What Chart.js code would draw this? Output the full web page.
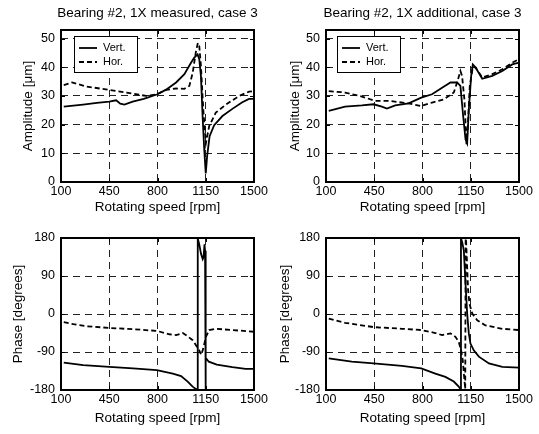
<!DOCTYPE html>
<html><head><meta charset="utf-8">
<script src="https://cdn.jsdelivr.net/npm/chart.js@4"></script>
<style>
html,body{margin:0;padding:0;background:#fff;}
#wrap{position:relative;width:539px;height:434px;overflow:hidden;background:#fff;}
canvas{position:absolute;}
</style></head><body>
<div id="wrap">
<canvas id="c1" width="270" height="217" style="left:0;top:0"></canvas>
<canvas id="c2" width="270" height="217" style="left:269px;top:0"></canvas>
<canvas id="c3" width="270" height="217" style="left:0;top:217px"></canvas>
<canvas id="c4" width="270" height="217" style="left:269px;top:217px"></canvas>
</div>
<script>
// ---------- data ----------
const xTicks = [100, 450, 800, 1150, 1500];
const ampTicks = [0, 10, 20, 30, 40, 50];
const phaseTicks = [-180, -90, 0, 90, 180];
const seriesNames = ['Vert.', 'Hor.'];
const plotTitles = ['Bearing #2, 1X measured, case 3', 'Bearing #2, 1X additional, case 3'];

// measured amplitude (top left)
const measAmpVertRpm = [120, 260, 360, 450, 500, 530, 560, 620, 700, 800, 862, 935, 995, 1043, 1067, 1091, 1103, 1115, 1127, 1139, 1150, 1160, 1178, 1211, 1271, 1343, 1415, 1464, 1500];
const measAmpVert    = [26.3, 27.0, 27.6, 28.0, 28.5, 27.3, 27.0, 28.0, 29.0, 30.6, 32.2, 34.7, 37.6, 41.6, 43.4, 44.5, 42.8, 37.0, 23.0, 11.4, 3.0, 9.0, 16.0, 19.8, 23.0, 25.5, 27.8, 29.0, 29.0];
const measAmpHorRpm  = [120, 180, 285, 450, 575, 718, 795, 862, 935, 995, 1031, 1055, 1079, 1093, 1103, 1115, 1132, 1151, 1175, 1223, 1296, 1392, 1464, 1500];
const measAmpHor     = [33.8, 34.7, 33.3, 32.1, 31.2, 30.0, 30.6, 32.1, 32.6, 32.5, 33.5, 38.0, 45.5, 48.5, 47.4, 40.5, 25.3, 13.5, 19.5, 24.2, 27.0, 30.0, 31.5, 31.7];

// additional amplitude (top right)
const addAmpVertRpm = [120, 238, 360, 445, 505, 542, 602, 699, 791, 869, 942, 1003, 1051, 1075, 1095, 1112, 1124, 1136, 1153, 1165, 1184, 1233, 1306, 1379, 1451, 1500];
const addAmpVert    = [24.8, 26.3, 26.7, 27.1, 26.3, 25.6, 26.7, 27.4, 29.4, 30.6, 32.9, 34.7, 34.7, 33.5, 23.0, 14.9, 13.5, 25.3, 37.0, 41.0, 40.0, 36.0, 37.0, 38.7, 41.0, 41.6];
const addAmpHorRpm  = [120, 238, 360, 457, 554, 699, 791, 869, 954, 1027, 1051, 1075, 1087, 1104, 1119, 1129, 1143, 1165, 1184, 1233, 1306, 1379, 1451, 1500];
const addAmpHor     = [31.7, 31.2, 29.8, 28.3, 28.3, 27.4, 26.5, 27.7, 28.8, 31.2, 34.7, 38.7, 37.0, 28.8, 13.2, 19.5, 33.5, 40.0, 40.0, 36.4, 37.6, 39.3, 41.6, 42.8];

// measured phase (bottom left)
const measPhVertRpm = [120, 261, 450, 622, 795, 911, 971, 1019, 1055, 1080, 1090, 1092, 1103, 1116, 1128, 1134, 1141, 1145, 1148, 1151, 1172, 1230, 1343, 1439, 1500];
const measPhVert    = [-115, -121, -125, -129, -133, -141, -147, -160, -172, -178, -179, 179, 165, 142, 130, 135, 165, 150, -178, -104, -113, -120, -126, -130, -130];
const measPhHorRpm  = [120, 189, 285, 450, 622, 795, 887, 935, 983, 1019, 1055, 1079, 1103, 1117, 1132, 1151, 1175, 1223, 1343, 1500];
const measPhHor     = [-19, -24, -29, -33, -36, -40, -48, -50, -45, -53, -62, -74, -86, -97, -82, -54, -38, -35, -38, -42];

// additional phase (bottom right)
const addPhVertRpm = [120, 287, 445, 651, 791, 893, 966, 1027, 1063, 1075, 1079, 1088, 1100, 1112, 1124, 1136, 1148, 1172, 1209, 1282, 1379, 1500];
const addPhVert    = [-105, -113, -117, -123, -129, -141, -149, -160, -172, -178, 179, 170, 150, 72, 1, -46, -70, -86, -101, -117, -125, -127];
const addPhHorRpm  = [120, 238, 445, 651, 791, 893, 942, 1003, 1039, 1063, 1080, 1092, 1104, 1110, 1113, 1116, 1124, 1131, 1141, 1161, 1197, 1257, 1379, 1500];
const addPhHor     = [-11, -21, -31, -35, -38, -45, -50, -46, -54, -66, -86, -109, -156, -178, 179, 175, 111, 56, 24, 1, -15, -27, -35, -38];

// ---------- drawing ----------
const FONT = '"Liberation Sans", Arial, Helvetica, sans-serif';
const pts = (xs, ys) => xs.map((x, i) => ({x: x, y: ys[i]}));

const framePlugin = {
  id: 'frame',
  afterDatasetsDraw(chart) {
    const o = chart.options.plugins.frame;
    const ctx = chart.ctx, a = chart.chartArea;
    const xs = chart.scales.x, ys = chart.scales.y;
    ctx.save();
    ctx.strokeStyle = '#000'; ctx.lineWidth = 1; ctx.setLineDash([]);
    ctx.beginPath();
    xTicks.forEach(v => {
      const p = Math.round(xs.getPixelForValue(v)) + 0.5;
      ctx.moveTo(p, a.bottom); ctx.lineTo(p, a.bottom - 4);
      ctx.moveTo(p, a.top); ctx.lineTo(p, a.top + 4);
    });
    o.yTicks.forEach(v => {
      const p = Math.round(ys.getPixelForValue(v)) + 0.5;
      ctx.moveTo(a.left, p); ctx.lineTo(a.left + 4, p);
      ctx.moveTo(a.right, p); ctx.lineTo(a.right - 4, p);
    });
    ctx.stroke();
    ctx.lineWidth = 2;
    ctx.strokeRect(a.left, a.top, a.right - a.left, a.bottom - a.top);
    if (o.legend) {
      const L = o.legend;
      const bx = a.left + L.dx, by = a.top + L.dy;
      ctx.fillStyle = '#fff';
      ctx.fillRect(bx, by, L.w, L.h);
      ctx.lineWidth = 1;
      ctx.strokeRect(bx + 0.5, by + 0.5, L.w, L.h);
      chart.data.datasets.forEach((ds, i) => {
        const yy = by + 12 + i * 14;
        ctx.beginPath();
        ctx.lineWidth = ds.borderWidth;
        ctx.setLineDash(ds.borderDash || []);
        ctx.moveTo(bx + 5, yy); ctx.lineTo(bx + 23, yy);
        ctx.stroke();
        ctx.setLineDash([]);
        ctx.fillStyle = '#000';
        ctx.font = '11px ' + FONT;
        ctx.textAlign = 'left'; ctx.textBaseline = 'middle';
        ctx.fillText(ds.label, bx + 29, yy);
      });
    }
    if (o.title) {
      ctx.fillStyle = '#000';
      ctx.font = '13.5px ' + FONT;
      ctx.textAlign = 'center'; ctx.textBaseline = 'middle';
      ctx.fillText(o.title, (a.left + a.right) / 2, 13);
    }
    ctx.restore();
  }
};

function makeChart(id, cfg) {
  const ctx = document.getElementById(id);
  const datasets = [
    {label: seriesNames[0], data: pts(cfg.v[0], cfg.v[1]), borderColor: '#000', borderWidth: 1.8, borderDash: [], pointRadius: 0, tension: 0, fill: false},
    {label: seriesNames[1], data: pts(cfg.h[0], cfg.h[1]), borderColor: '#000', borderWidth: 1.8, borderDash: [5, 3], pointRadius: 0, tension: 0, fill: false}
  ];
  return new Chart(ctx, {
    type: 'line',
    data: {datasets},
    options: {
      responsive: false, animation: false, events: [],
      layout: {padding: {top: cfg.padTop, right: cfg.padRight, left: 0, bottom: 0}},
      plugins: {
        legend: {display: false}, tooltip: {enabled: false}, title: {display: false},
        frame: {yTicks: cfg.yTicks, legend: cfg.legend, title: cfg.title}
      },
      scales: {
        x: {
          type: 'linear', min: 100, max: 1500,
          afterBuildTicks: s => { s.ticks = xTicks.map(v => ({value: v})); },
          afterFit: s => { s.height = cfg.xHeight; },
          ticks: {autoSkip: false, maxRotation: 0, padding: 2, color: '#000', font: {family: FONT, size: 12.5}, callback: v => String(v)},
          grid: {color: '#222', lineWidth: 1, drawTicks: false},
          border: {display: false, dash: [7, 5]},
          title: {display: true, text: 'Rotating speed [rpm]', color: '#000', font: {family: FONT, size: 13.5}, padding: {top: 0, bottom: cfg.xTitlePad}}
        },
        y: {
          type: 'linear', min: cfg.yMin, max: cfg.yMax,
          afterBuildTicks: s => { s.ticks = cfg.yTicks.map(v => ({value: v})); },
          afterFit: s => { s.width = cfg.yWidth; },
          ticks: {autoSkip: false, padding: 6, color: '#000', font: {family: FONT, size: 12.5}, callback: v => String(v)},
          grid: {color: '#222', lineWidth: 1, drawTicks: false},
          border: {display: false, dash: [7, 5]},
          title: {display: true, text: cfg.yTitle, color: '#000', font: {family: FONT, size: 13.5}, padding: {top: cfg.yTitlePad, bottom: 0}}
        }
      }
    },
    plugins: [framePlugin]
  });
}

makeChart('c1', {v: [measAmpVertRpm, measAmpVert], h: [measAmpHorRpm, measAmpHor],
  yMin: 0, yMax: 53, yTicks: ampTicks, yTitle: 'Amplitude [\u03bcm]', title: plotTitles[0],
  padTop: 30, padRight: 16, yWidth: 61, xHeight: 35, yTitlePad: 20, xTitlePad: 2,
  legend: {dx: 13, dy: 6, w: 63, h: 36}});
makeChart('c2', {v: [addAmpVertRpm, addAmpVert], h: [addAmpHorRpm, addAmpHor],
  yMin: 0, yMax: 53, yTicks: ampTicks, yTitle: 'Amplitude [\u03bcm]', title: plotTitles[1],
  padTop: 30, padRight: 20, yWidth: 57, xHeight: 35, yTitlePad: 18, xTitlePad: 2,
  legend: {dx: 11, dy: 6, w: 63, h: 36}});
makeChart('c3', {v: [measPhVertRpm, measPhVert], h: [measPhHorRpm, measPhHor],
  yMin: -180, yMax: 180, yTicks: phaseTicks, yTitle: 'Phase [degrees]', title: null,
  padTop: 21, padRight: 16, yWidth: 61, xHeight: 44, yTitlePad: 10, xTitlePad: 8, legend: null});
makeChart('c4', {v: [addPhVertRpm, addPhVert], h: [addPhHorRpm, addPhHor],
  yMin: -180, yMax: 180, yTicks: phaseTicks, yTitle: 'Phase [degrees]', title: null,
  padTop: 21, padRight: 20, yWidth: 57, xHeight: 44, yTitlePad: 8, xTitlePad: 8, legend: null});
</script>
</body></html>
